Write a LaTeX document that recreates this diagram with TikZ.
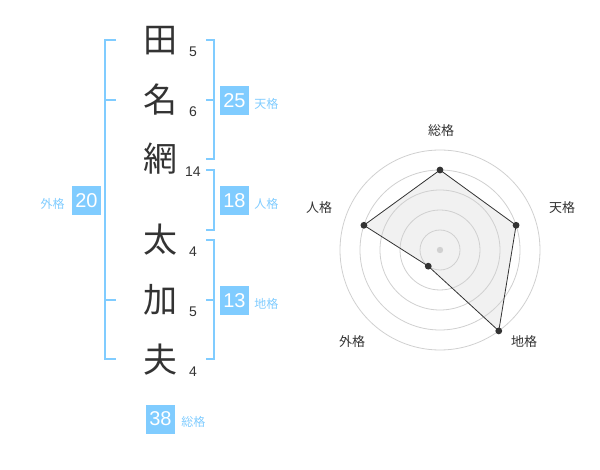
\documentclass[tikz,border=0pt]{standalone}
\usepackage{fontspec}
\setmainfont{Liberation Sans}
\newfontfamily\jp{Noto Sans CJK JP}
\usetikzlibrary{positioning}
\definecolor{kakublue}{RGB}{128,204,255}
\definecolor{inkgray}{RGB}{51,51,51}
\definecolor{ringgray}{RGB}{208,208,208}
\definecolor{fillgray}{RGB}{241,241,241}
\tikzset{
  kanji/.style={text=inkgray, inner sep=0pt, font=\jp\fontsize{34}{34}\selectfont},
  strokes/.style={text=inkgray, inner sep=0pt, font=\fontsize{14}{14}\selectfont},
  kakubox/.style={fill=kakublue, text=white, minimum size=29pt, inner sep=0pt, font=\fontsize{20}{20}\selectfont},
  kakuname/.style={text=kakublue, inner sep=0pt, font=\jp\fontsize{12}{12}\selectfont},
  bracket/.style={draw=kakublue, line width=2pt},
  ring/.style={draw=ringgray, line width=0.8pt},
  radarname/.style={text=inkgray, inner sep=0pt, font=\jp\fontsize{13}{13}\selectfont},
}

\begin{document}
\begin{tikzpicture}[x=1pt,y=-1pt]
\useasboundingbox (0,0) rectangle (600,470);

\node[kanji] (k1) at (160,41) {田}; %surname
\node[kanji] (k2) at (160,100) {名};
\node[kanji] (k3) at (160,159) {網};
\node[kanji] (k4) at (160,240) {太}; %given name
\node[kanji] (k5) at (160,300) {加};
\node[kanji] (k6) at (160,360) {夫};

\node[strokes] (n1) at (193,52) {5}; %stroke counts
\node[strokes] (n2) at (193,112) {6};
\node[strokes] (n3) at (193,172) {14};
\node[strokes] (n4) at (193,252) {4};
\node[strokes] (n5) at (193,312) {5};
\node[strokes] (n6) at (193,372) {4};

\draw[bracket] (206,40) -- (214,40) -- (214,159) -- (206,159); %tenkaku
\draw[bracket] (206,100) -- (214,100);
\draw[bracket] (206,170) -- (214,170) -- (214,230) -- (206,230); %jinkaku
\draw[bracket] (206,240) -- (214,240) -- (214,359) -- (206,359); %chikaku
\draw[bracket] (206,300) -- (214,300);
\draw[bracket] (116,40) -- (105,40) -- (105,359) -- (116,359); %gaikaku
\draw[bracket] (105,100) -- (116,100);
\draw[bracket] (105,300) -- (116,300);

\node[kakubox] (ten) at (234.5,100.5) {25};
\node[kakuname, right=5pt of ten, yshift=-3pt] (tenname) {天格};
\node[kakubox] (jin) at (234.5,200.5) {18};
\node[kakuname, right=5pt of jin, yshift=-3pt] (jinname) {人格};
\node[kakubox] (chi) at (234.5,300.5) {13};
\node[kakuname, right=5pt of chi, yshift=-3pt] (chiname) {地格};
\node[kakubox] (gai) at (86.5,200.5) {20};
\node[kakuname, left=7pt of gai, yshift=-3pt] (gainame) {外格};
\node[kakubox] (sou) at (160.5,419) {38};
\node[kakuname, right=6pt of sou, yshift=-3pt] (souname) {総格};

\begin{scope}[shift={(440,250)}] %radar
\coordinate (rSou) at (90:80pt);
\coordinate (rTen) at (18:80pt);
\coordinate (rChi) at (-54:100pt);
\coordinate (rGai) at (-126:20pt);
\coordinate (rJin) at (162:80pt);
\fill[fillgray] (rSou) -- (rTen) -- (rChi) -- (rGai) -- (rJin) -- cycle;
\foreach \r in {20,40,...,100}
  \draw[ring] (0,0) circle[radius=\r pt];
\fill[ringgray] (0,0) circle[radius=3.2pt];
\draw[inkgray, line width=0.8pt] (rSou) -- (rTen) -- (rChi) -- (rGai) -- (rJin) -- cycle;
\foreach \p in {rSou,rTen,rChi,rGai,rJin}
  \fill[inkgray] (\p) circle[radius=3.4pt];
\end{scope}

\node[radarname] (lSou) at (441,131) {総格};
\node[radarname] (lTen) at (562,208) {天格};
\node[radarname] (lChi) at (524,342) {地格};
\node[radarname] (lGai) at (352,342) {外格};
\node[radarname] (lJin) at (319,208) {人格};
\end{tikzpicture}
\end{document}
